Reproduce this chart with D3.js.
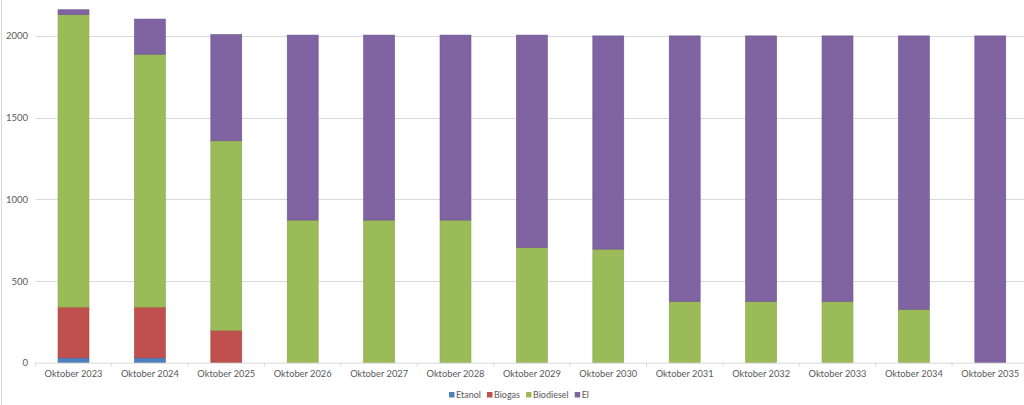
<!DOCTYPE html>
<html>
<head>
<meta charset="utf-8">
<script src="https://cdn.jsdelivr.net/npm/d3@7"></script>
<style>
  body { margin: 0; background: #fff; }
  text { font-family: Lato, "Open Sans", sans-serif; fill: #595959; }
</style>
</head>
<body>
<div id="chart"></div>
<script>
var width = 1024, height = 405;

var categories = ["Oktober 2023", "Oktober 2024", "Oktober 2025", "Oktober 2026", "Oktober 2027",
    "Oktober 2028", "Oktober 2029", "Oktober 2030", "Oktober 2031", "Oktober 2032",
    "Oktober 2033", "Oktober 2034", "Oktober 2035"];
var seriesNames = ["Etanol", "Biogas", "Biodiesel", "El"];
var etanol    = [30, 30, 0, 0, 0, 0, 0, 0, 0, 0, 0, 0, 0];
var biogas    = [310, 310, 198, 0, 0, 0, 0, 0, 0, 0, 0, 0, 0];
var biodiesel = [1790, 1548, 1160, 873, 873, 873, 706, 695, 375, 375, 375, 327, 0];
var el        = [30, 215, 650, 1132, 1132, 1132, 1299, 1305, 1625, 1625, 1625, 1673, 2000];
var yTicks = [0, 500, 1000, 1500, 2000];
var colors = ["#4F81BD", "#C0504D", "#9BBB59", "#8064A2"];
var strokes = ["#3f6fa8", "#a9403d", "#88a64a", "#6b5190"];

var rows = categories.map(function(c, i) {
    return { cat: c, Etanol: etanol[i], Biogas: biogas[i], Biodiesel: biodiesel[i], El: el[i] };
});
var stacked = d3.stack().keys(seriesNames)(rows);

var svg = d3.select("#chart").append("svg")
    .attr("width", width).attr("height", height);

var x = d3.scaleBand().domain(categories)
    .range([35.3, 1028.5]).paddingInner(0.595).paddingOuter(0.2975);
var y = d3.scaleLinear().domain([0, 2000]).range([362.7, 35.9]);

// chart border
svg.append("line").attr("x1", 1.5).attr("x2", 1.5).attr("y1", 0).attr("y2", height)
    .attr("stroke", "#d9d9d9");

// grid
svg.append("g").selectAll("line").data(yTicks.slice(1)).enter().append("line")
    .attr("x1", 35.3).attr("x2", width)
    .attr("y1", function(d) { return Math.round(y(d)) + 0.5; })
    .attr("y2", function(d) { return Math.round(y(d)) + 0.5; })
    .attr("stroke", "#d9d9d9");

// y labels
svg.append("g").selectAll("text").data(yTicks).enter().append("text")
    .attr("x", 28).attr("y", function(d) { return y(d) + 3.5; })
    .attr("text-anchor", "end").attr("font-size", "9.5px")
    .text(function(d) { return d; });

// bars
svg.append("g").selectAll("g").data(stacked).enter().append("g")
    .attr("fill", function(d, i) { return colors[i]; })
    .attr("stroke", function(d, i) { return strokes[i]; })
    .attr("stroke-width", 0.6)
    .selectAll("rect").data(function(d) { return d.filter(function(p) { return p[1] > p[0]; }); })
    .enter().append("rect")
    .attr("x", function(d) { return x(d.data.cat); })
    .attr("width", x.bandwidth())
    .attr("y", function(d) { return y(d[1]); })
    .attr("height", function(d) { return y(d[0]) - y(d[1]); });

// x axis
var xAxis = d3.axisBottom(x).tickSize(0).tickPadding(8);
var gx = svg.append("g").attr("transform", "translate(0," + 362.7 + ")").call(xAxis);
gx.select(".domain").attr("stroke", "#d9d9d9").attr("d", "M35.3,0.5H" + width);
gx.selectAll("text").attr("font-size", "9.3px").attr("fill", "#595959")
    .attr("font-family", "Lato, 'Open Sans', sans-serif");
var step = x.step();
gx.append("g").selectAll("line").data(categories).enter().append("line")
    .attr("x1", function(d) { return x(d) - x.paddingInner() * step / 2; })
    .attr("x2", function(d) { return x(d) - x.paddingInner() * step / 2; })
    .attr("y1", 0).attr("y2", 4).attr("stroke", "#d9d9d9");

// legend, laid out from text widths and centred
var lg = svg.append("g");
var items = lg.selectAll("g").data(seriesNames).enter().append("g");
items.append("rect").attr("x", 0).attr("y", -6).attr("width", 5.5).attr("height", 5.5)
    .attr("fill", function(d, i) { return colors[i]; });
items.append("text").attr("x", 7).attr("y", 0).attr("font-size", "9px")
    .text(function(d) { return d; });
var pos = 0;
items.each(function() {
    var w = d3.select(this).select("text").node().getComputedTextLength();
    d3.select(this).attr("transform", "translate(" + pos + ",0)");
    pos += 7 + w + 6;
});
var total = pos - 6;
lg.attr("transform", "translate(" + (519 - total / 2) + ",398)");
</script>
</body>
</html>
